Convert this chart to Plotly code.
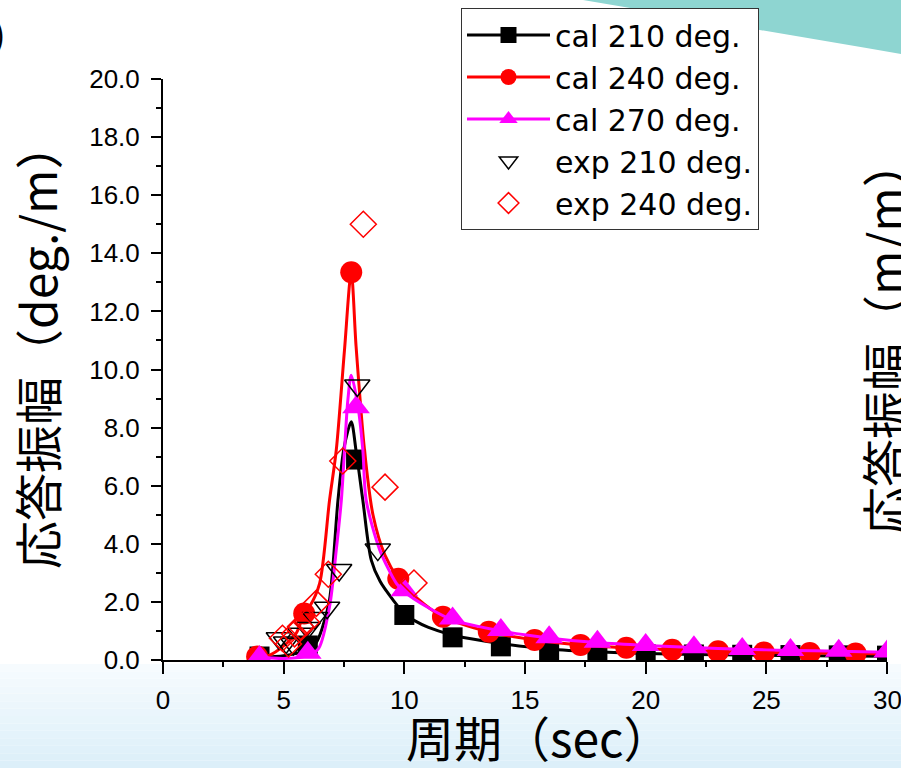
import plotly.graph_objects as go

# ---------------- data ----------------
cal210_line_x = [4.0, 5.0, 5.5, 6.0, 6.35, 6.6, 6.9, 7.25, 7.5, 7.8, 8.0, 8.28, 8.63, 9.0, 9.53, 10.0, 10.5, 11.0, 11.9, 12.7, 14.0, 16.0, 18.0, 20.0, 22.0, 24.0, 26.0, 28.0, 30.0]
cal210_line_y = [0.08, 0.15, 0.22, 0.35, 0.6, 1.1, 2.07, 5.5, 7.3, 8.2, 7.2, 5.5, 3.44, 2.7, 2.07, 1.6, 1.32, 1.12, 0.88, 0.74, 0.57, 0.38, 0.28, 0.22, 0.19, 0.17, 0.15, 0.14, 0.13]
cal210_mk_x = [4, 6, 8, 10, 12, 14, 16, 18, 20, 22, 24, 26, 28, 30]
cal210_mk_y = [0.12, 0.5, 6.9, 1.55, 0.78, 0.47, 0.32, 0.24, 0.2, 0.19, 0.18, 0.17, 0.16, 0.15]

cal240_line_x = [3.9, 4.42, 4.96, 5.52, 5.85, 6.07, 6.49, 6.9, 7.18, 7.52, 7.8, 8.0, 8.35, 8.7, 9.2, 9.75, 10.5, 11.6, 13.5, 15.4, 17.3, 19.2, 21.1, 23.0, 24.9, 26.8, 28.7, 30.6]
cal240_line_y = [0.12, 0.17, 0.46, 0.92, 1.6, 1.83, 2.64, 5.5, 7.23, 10.67, 13.35, 10.8, 7.23, 5.0, 3.6, 2.8, 2.15, 1.49, 0.97, 0.69, 0.52, 0.42, 0.35, 0.3, 0.26, 0.24, 0.22, 0.2]
cal240_mk_x = [3.9, 5.85, 7.8, 9.75, 11.6, 13.5, 15.4, 17.3, 19.2, 21.1, 23.0, 24.9, 26.8, 28.7, 30.6]
cal240_mk_y = [0.12, 1.6, 13.35, 2.8, 1.49, 0.97, 0.69, 0.52, 0.42, 0.35, 0.3, 0.26, 0.24, 0.22, 0.2]

cal270_line_x = [4.0, 5.0, 6.0, 6.45, 6.9, 7.18, 7.39, 7.66, 7.8, 8.08, 8.28, 8.42, 8.98, 9.67, 10.0, 11.0, 12.0, 14.0, 16.0, 18.0, 20.0, 22.0, 24.0, 26.0, 28.0, 30.0]
cal270_line_y = [0.1, 0.05, 0.15, 0.4, 1.83, 3.79, 5.5, 8.95, 9.8, 8.72, 7.23, 5.5, 3.79, 2.64, 2.35, 1.8, 1.38, 1.0, 0.76, 0.6, 0.5, 0.43, 0.37, 0.33, 0.3, 0.27]
cal270_mk_x = [4, 6, 8, 10, 12, 14, 16, 18, 20, 22, 24, 26, 28, 30]
cal270_mk_y = [0.1, 0.25, 8.7, 2.4, 1.43, 1.03, 0.78, 0.63, 0.52, 0.44, 0.38, 0.34, 0.32, 0.29]

exp210_x = [4.8, 5.1, 5.4, 5.7, 6.0, 6.3, 6.8, 7.3, 8.05, 8.9]
exp210_y = [0.75, 0.6, 0.55, 0.9, 1.1, 1.45, 1.8, 3.1, 9.45, 3.8]

exp240_x = [4.95, 5.2, 5.45, 5.7, 5.95, 6.35, 6.85, 7.45, 8.3, 9.2, 10.4]
exp240_y = [0.75, 0.55, 0.9, 1.15, 1.3, 1.95, 2.95, 6.85, 15.0, 5.95, 2.65]

names = ["cal 210 deg.", "cal 240 deg.", "cal 270 deg.", "exp 210 deg.", "exp 240 deg."]
x_ticks = [0, 5, 10, 15, 20, 25, 30]
x_ticklabels = [str(v) for v in x_ticks]
y_ticks = [0, 2, 4, 6, 8, 10, 12, 14, 16, 18, 20]
y_ticklabels = ["%.1f" % v for v in y_ticks]

# ---------------- layout geometry (pixels) ----------------
W, H = 901, 768
ML, MR, MT, MB = 163, 14, 79, 108
PW, PH = W - ML - MR, H - MT - MB


def px(xp):
    return (xp - ML) / PW


def py(yp):
    return (H - MB - yp) / PH


BLACK, RED, MAG = "#000000", "#FF0000", "#FF00FF"
LW = 3

fig = go.Figure()

cal = [
    (cal210_line_x, cal210_line_y, cal210_mk_x, cal210_mk_y, BLACK, "square", 20),
    (cal240_line_x, cal240_line_y, cal240_mk_x, cal240_mk_y, RED, "circle", 22),
    (cal270_line_x, cal270_line_y, cal270_mk_x, cal270_mk_y, MAG, "triangle-up", 24),
]
for lx, ly, mx, my, col, sym, sz in cal:
    fig.add_trace(go.Scatter(x=lx, y=ly, mode="lines", line=dict(color=col, width=LW, shape="spline", smoothing=0.8),
                             showlegend=False, hoverinfo="skip"))
    fig.add_trace(go.Scatter(x=mx, y=my, mode="markers", marker=dict(color=col, symbol=sym, size=sz, line=dict(width=0)),
                             showlegend=False))

fig.add_trace(go.Scatter(x=exp210_x, y=exp210_y, mode="markers", showlegend=False,
                         marker=dict(symbol="triangle-down-open", size=22, color=BLACK, line=dict(width=1.5, color=BLACK))))
fig.add_trace(go.Scatter(x=exp240_x, y=exp240_y, mode="markers", showlegend=False,
                         marker=dict(symbol="diamond-open", size=20, color=RED, line=dict(width=1.5, color=RED))))

# legend entries
for (lx, ly, mx, my, col, sym, sz), nm in zip(cal, names[:3]):
    fig.add_trace(go.Scatter(x=[None], y=[None], mode="lines+markers", name=nm,
                             line=dict(color=col, width=LW), marker=dict(color=col, symbol=sym, size=16)))
fig.add_trace(go.Scatter(x=[None], y=[None], mode="markers", name=names[3],
                         marker=dict(symbol="triangle-down-open", size=16, color=BLACK, line=dict(width=1.5, color=BLACK))))
fig.add_trace(go.Scatter(x=[None], y=[None], mode="markers", name=names[4],
                         marker=dict(symbol="diamond-open", size=16, color=RED, line=dict(width=1.5, color=RED))))

# background decorations
shapes = []
n = 14
y0, y1 = 664, 768
for i in range(n):
    t = i / (n - 1)
    r = int(round(246 + (220 - 246) * t))
    g = int(round(251 + (239 - 251) * t))
    b = int(round(254 + (249 - 254) * t))
    shapes.append(dict(type="rect", xref="paper", yref="paper", layer="below",
                       x0=px(0), x1=px(W), y0=py(y0 + (y1 - y0) * (i + 1) / n), y1=py(y0 + (y1 - y0) * i / n),
                       fillcolor="rgb(%d,%d,%d)" % (r, g, b), line=dict(width=0)))
teal_path = "M %f,%f Q %f,%f %f,%f L %f,%f Z" % (px(583), py(0), px(760), py(30), px(901), py(54), px(901), py(0))
shapes.append(dict(type="path", xref="paper", yref="paper", layer="below", path=teal_path,
                   fillcolor="#8ED5D1", line=dict(width=0)))

tickfont = dict(family="Liberation Sans, Arial, sans-serif", size=26, color="black")
title_font = dict(family="Noto Sans CJK JP", size=48, color="black")

annotations = [
    dict(text="応答振幅（deg./m）", xref="paper", yref="paper", x=px(36), y=py(345), textangle=-90,
         showarrow=False, font=title_font, xanchor="center", yanchor="middle"),
    dict(text="周期（sec）", xref="paper", yref="paper", x=px(539), y=py(736),
         showarrow=False, font=title_font, xanchor="center", yanchor="middle"),
    dict(text="応答振幅（m/m）", xref="paper", yref="paper", x=px(883), y=py(337), textangle=-90,
         showarrow=False, font=title_font, xanchor="center", yanchor="middle"),
    dict(text=")", xref="paper", yref="paper", x=px(8), y=py(34),
         showarrow=False, font=dict(family="Noto Sans CJK JP", size=34, color="black"), xanchor="right", yanchor="middle"),
    # last x tick label, cut by the page edge as in the reference
    dict(text=x_ticklabels[-1], xref="x", yref="paper", x=x_ticks[-1], y=py(700),
         showarrow=False, font=tickfont, xanchor="center", yanchor="middle"),
]

fig.update_layout(
    width=W, height=H,
    margin=dict(l=ML, r=MR, t=MT, b=MB, pad=0, autoexpand=False),
    paper_bgcolor="white", plot_bgcolor="white",
    shapes=shapes, annotations=annotations,
    showlegend=True,
    legend=dict(x=px(461), y=py(8), xanchor="left", yanchor="top", bgcolor="white",
                bordercolor="#333333", borderwidth=1, itemwidth=83,
                font=dict(family="DejaVu Sans", size=30, color="black"), tracegroupgap=0),
    xaxis=dict(range=[0, 30], tickvals=x_ticks, ticktext=x_ticklabels[:-1] + [""], showgrid=False, zeroline=False,
               showline=True, linecolor="black", linewidth=2, ticks="outside", ticklen=12, tickwidth=2, tickcolor="black",
               tickfont=tickfont, ticklabelstandoff=4, automargin=False,
               minor=dict(dtick=2.5, tick0=0, ticks="outside", ticklen=5, tickwidth=2, tickcolor="black")),
    yaxis=dict(range=[0, 20], tickvals=y_ticks, ticktext=y_ticklabels, showgrid=False, zeroline=False,
               showline=True, linecolor="black", linewidth=2, ticks="outside", ticklen=10, tickwidth=2, tickcolor="black",
               tickfont=tickfont, ticklabelstandoff=6, automargin=False,
               minor=dict(dtick=1, tick0=0, ticks="outside", ticklen=5, tickwidth=2, tickcolor="black")),
)

fig.write_html("out.html")
